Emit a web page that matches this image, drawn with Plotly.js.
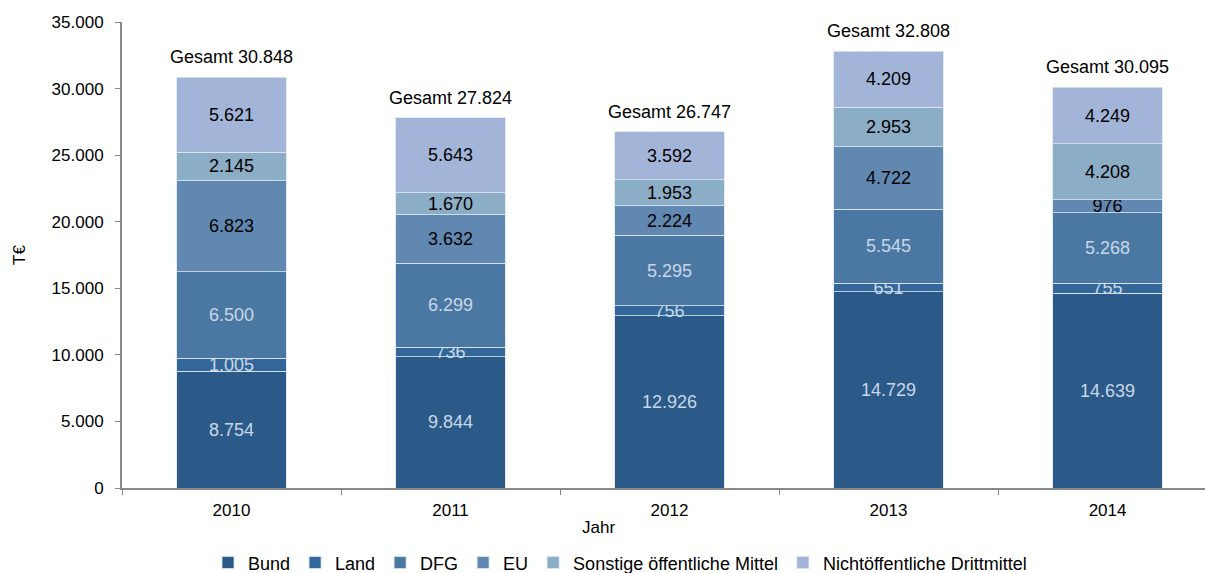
<!DOCTYPE html>
<html>
<head>
<meta charset="utf-8">
<script src="https://cdn.plot.ly/plotly-3.0.1.min.js"></script>
<style>html,body{margin:0;padding:0;background:#fff;}#chart{width:1205px;height:573px;}</style>
</head>
<body>
<div id="chart"></div>
<script>
const years = ['2010', '2011', '2012', '2013', '2014'];
const bund = [8754, 9844, 12926, 14729, 14639];
const land = [1005, 736, 756, 651, 755];
const dfg = [6500, 6299, 5295, 5545, 5268];
const eu = [6823, 3632, 2224, 4722, 976];
const sonstige = [2145, 1670, 1953, 2953, 4208];
const nichtoeff = [5621, 5643, 3592, 4209, 4249];
const gesamt = [30848, 27824, 26747, 32808, 30095];

const seriesNames = ['Bund', 'Land', 'DFG', 'EU', 'Sonstige öffentliche Mittel', 'Nichtöffentliche Drittmittel'];
const seriesValues = [bund, land, dfg, eu, sonstige, nichtoeff];
const colors = ['#2B5A89', '#33679A', '#4B78A2', '#6088B0', '#8CADC6', '#A2B5D8'];
const textColors = ['#C8D7E8', '#C8D7E8', '#C8D7E8', '#000000', '#000000', '#000000'];

const font = 'Liberation Sans, Arial, sans-serif';

function fmt(v) {
  return String(v).replace(/\B(?=(\d{3})+(?!\d))/g, '.');
}

const traces = seriesNames.map((name, i) => ({
  type: 'bar',
  name: name,
  x: years,
  y: seriesValues[i],
  marker: {color: colors[i], line: {color: 'rgba(220,230,240,0.8)', width: 1}},
  texttemplate: '%{y:,.0f}',
  textposition: 'inside',
  insidetextanchor: 'middle',
  constraintext: 'none',
  textangle: 0,
  textfont: {family: font, size: 18, color: textColors[i]},
  hoverinfo: 'skip'
}));

const annotations = years.map((yr, i) => ({
  x: i,
  y: gesamt[i],
  xref: 'x', yref: 'y',
  text: 'Gesamt ' + fmt(gesamt[i]),
  showarrow: false,
  yanchor: 'bottom',
  yshift: 8,
  font: {family: font, size: 18, color: '#000'}
}));
annotations.push({
  text: 'Jahr', xref: 'paper', yref: 'paper', x: (598 - 122) / 1083, y: -0.084,
  showarrow: false, yanchor: 'middle', xanchor: 'center',
  font: {family: font, size: 17, color: '#000'}
});

const layout = {
  width: 1205, height: 573,
  margin: {l: 122, r: 0, t: 22, b: 85, autoexpand: false},
  separators: ',.',
  barmode: 'stack',
  bargap: 0.5,
  showlegend: true,
  paper_bgcolor: '#fff',
  plot_bgcolor: '#fff',
  font: {family: font, size: 17, color: '#000'},
  xaxis: {
    type: 'category',
    range: [-0.5, 4.445],
    showgrid: false,
    showline: true, linecolor: '#888', linewidth: 2,
    ticks: 'outside', tickson: 'boundaries', ticklen: 5, tickcolor: '#888', tickwidth: 1,
    ticklabelstandoff: 6,
    tickfont: {family: font, size: 17, color: '#000'},
    zeroline: false
  },
  yaxis: {
    range: [0, 35000],
    dtick: 5000,
    tickformat: ',.0f',
    showgrid: false,
    zeroline: false,
    showline: true, linecolor: '#888', linewidth: 2,
    ticks: 'outside', ticklen: 5, tickcolor: '#888',
    ticklabelstandoff: 8,
    tickfont: {family: font, size: 17, color: '#000'},
    title: {text: 'T€', font: {family: font, size: 17, color: '#000'}, standoff: 22}
  },
  legend: {
    orientation: 'h',
    xref: 'container', yref: 'container',
    x: 620 / 1205, xanchor: 'center',
    y: 0.05, yanchor: 'top',
    traceorder: 'normal',
    font: {family: font, size: 18, color: '#000'},
    itemwidth: 30
  },
  annotations: annotations
};

Plotly.newPlot('chart', traces, layout, {displayModeBar: false, staticPlot: true});
</script>
</body>
</html>
